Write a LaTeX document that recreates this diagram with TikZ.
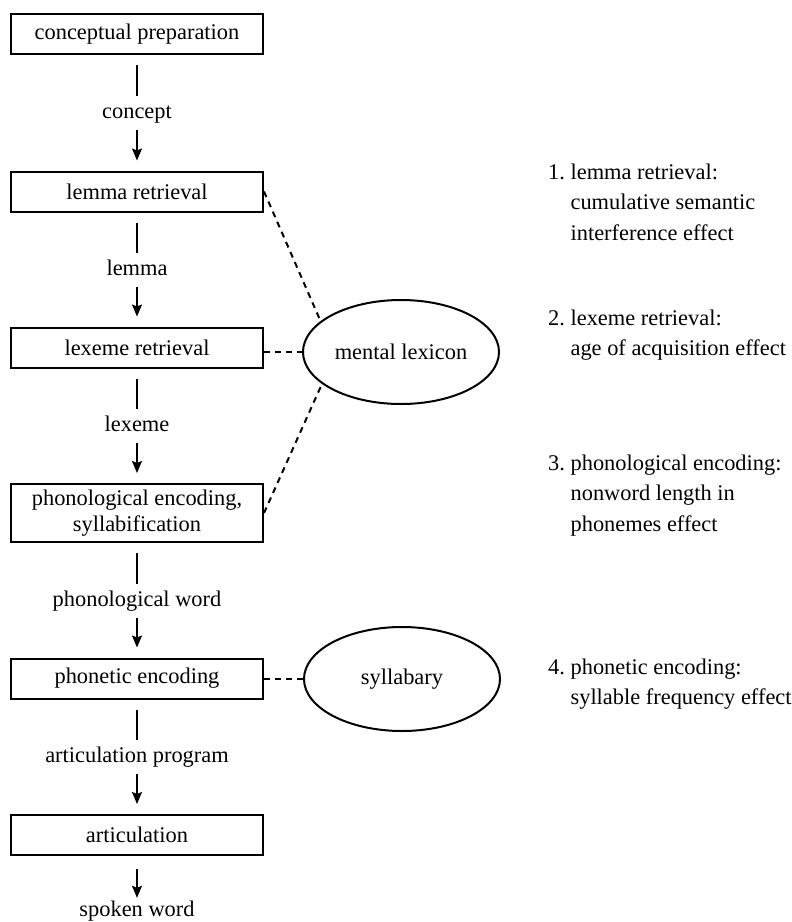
\documentclass[tikz,border=0pt]{standalone}
\usepackage{fontspec}
\setmainfont{Liberation Serif}
\usetikzlibrary{arrows.meta,shapes.geometric}
\begin{document}
\begin{tikzpicture}[x=1pt,y=-1pt,
  every node/.style={font=\fontsize{22.4}{25.5}\selectfont},
  stage/.style={draw, line width=2pt, minimum width=252pt, minimum height=40pt, inner sep=0pt, align=center},
  store/.style={draw, ellipse, line width=2pt, minimum width=196pt, minimum height=104pt, inner sep=0pt},
  flowlabel/.style={inner sep=0pt, text height=16pt, text depth=5pt, anchor=base},
  link/.style={line width=1.6pt},
  flow/.style={line width=1.6pt, -{Stealth[length=12pt,width=10pt,inset=2pt]}},
  assoc/.style={line width=2pt, dash pattern=on 6pt off 5pt},
  note/.style={anchor=base west, align=left, inner sep=0pt, font=\fontsize{22.4}{30.5}\selectfont}
]
\useasboundingbox (0,0) rectangle (792,922);

% processing stages
\node[stage] (b1) at (137,34) {conceptual preparation};
\node[stage] (b2) at (137,191.5) {lemma retrieval};
\node[stage] (b3) at (137,347.5) {lexeme retrieval};
\node[stage, minimum height=58pt] (b4) at (137,513) {phonological encoding,\\syllabification};
\node[stage] (b5) at (137,678.5) {phonetic encoding};
\node[stage] (b6) at (137,835) {articulation};

% intermediate representations
\node[flowlabel] (l1) at (137,118) {concept};
\node[flowlabel] (l2) at (137,275) {lemma};
\node[flowlabel] (l3) at (137,431) {lexeme};
\node[flowlabel] (l4) at (137,606) {phonological word};
\node[flowlabel] (l5) at (137,762) {articulation program};
\node[flowlabel] (l6) at (137,916) {spoken word};

% stores
\node[store] (ml) at (401,352) {mental lexicon};
\node[store] (syl) at (402,679) {syllabary};

% flow between stages
\foreach \s/\l/\t in {b1/l1/b2, b2/l2/b3, b3/l3/b4, b4/l4/b5, b5/l5/b6} {
  \draw[link, shorten <=10pt, shorten >=6pt] (\s.south) -- (\l.north);
  \draw[flow, shorten <=7pt, shorten >=10pt] (\l.south) -- (\t.north);
}
\draw[flow, shorten <=13pt, shorten >=2pt] (b6.south) -- (l6.north);

% access to the stores
\draw[assoc] (b2.east) -- (ml.159);
\draw[assoc] (ml.west -| b3.east) -- (ml.west);
\draw[assoc] (b4.east) -- (ml.202);
\draw[assoc] (syl.west -| b5.east) -- (syl.west);

% effects per stage (base anchor sits on the last line)
\node[note] (n1) at (548,240) {1.~lemma retrieval:\\\phantom{1.~}cumulative semantic\\\phantom{1.~}interference effect};
\node[note] (n2) at (548,355.5) {2.~lexeme retrieval:\\\phantom{2.~}age of acquisition effect};
\node[note] (n3) at (548,531) {3.~phonological encoding:\\\phantom{3.~}nonword length in\\\phantom{3.~}phonemes effect};
\node[note] (n4) at (548,704.5) {4.~phonetic encoding:\\\phantom{4.~}syllable frequency effect};
\end{tikzpicture}
\end{document}
